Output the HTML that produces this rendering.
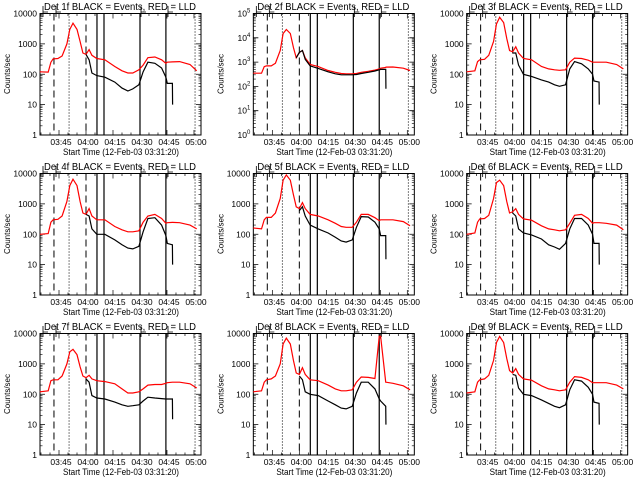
<!DOCTYPE html>
<html><head><meta charset="utf-8">
<style>
html,body{margin:0;padding:0;background:#fff;}
svg{display:block;font-family:"Liberation Sans",sans-serif;}
</style></head>
<body>
<svg id="fig" width="640" height="480" viewBox="0 0 640 480" xmlns="http://www.w3.org/2000/svg"></svg>
<script>
// Time knots: minutes after 03:30
const times = [4.4,9,10.5,11.7,14.4,16.7,19.4,21,22.8,25,26.7,28.3,30,31.7,33.3,36,40.5,46,50,53.3,56,59.4,61.7,64.4,68.3,72,74.4,75.2,78,78.1,82,87.8,91.5];
const panelTitles = ["Det 1f","Det 2f","Det 3f","Det 4f","Det 5f","Det 6f","Det 7f","Det 8f","Det 9f"];
const _ = null;
const red1 = [120,118,250,320,330,400,1000,3000,4800,3000,1200,500,450,650,420,330,300,180,130,110,110,140,200,350,370,300,230,250,255,255,260,210,130];
const blk1 = [_,_,_,_,_,_,_,_,_,_,_,_,450,300,110,90,80,55,35,28,33,45,120,250,230,160,80,50,50,10,_,_,_];
const red2 = [350,350,650,700,700,900,3000,15000,22000,15000,4000,1500,2500,3000,1500,800,650,450,380,340,330,330,340,380,420,470,520,560,600,620,630,560,450];
const blk2 = [_,_,_,_,_,_,_,_,_,_,_,1500,2500,3000,1300,700,550,400,330,300,300,300,310,340,380,430,480,500,500,80,_,_,_];
const red3 = [120,130,260,300,310,420,1200,4500,7500,5000,1500,600,550,800,500,330,300,180,150,140,135,140,250,340,330,290,250,250,250,250,250,210,150];
const blk3 = [_,_,_,_,_,_,_,_,_,_,_,_,500,500,200,100,85,65,55,45,40,45,150,260,220,150,100,60,55,10,_,_,_];
const red4 = [100,105,250,300,310,400,1200,4000,6500,4000,1200,500,450,700,400,300,300,180,140,120,120,130,250,400,450,330,230,240,245,245,240,200,150];
const blk4 = [_,_,_,_,_,_,_,_,_,_,_,_,450,400,150,100,100,65,45,35,33,40,120,330,350,200,90,50,45,10,_,_,_];
const red5 = [160,150,300,360,360,500,1500,6000,9000,6000,2000,800,700,1100,700,450,400,300,230,180,170,170,250,450,450,350,280,300,300,300,300,260,190];
const blk5 = [_,_,_,_,_,_,_,_,_,_,_,_,600,800,400,200,150,110,80,60,55,65,170,380,370,250,150,90,90,15,_,_,_];
const red6 = [100,110,250,320,330,420,1500,5000,6000,4000,1200,500,550,700,450,320,290,190,150,140,130,140,230,420,450,330,230,240,240,240,230,200,140];
const blk6 = [_,_,_,_,_,_,_,_,_,_,_,_,500,400,150,110,95,70,45,38,32,50,150,330,330,200,100,50,50,10,_,_,_];
const red7 = [120,130,280,300,300,400,1000,2500,3000,2000,800,400,350,420,320,280,260,220,150,110,110,120,150,200,210,210,230,240,250,250,250,220,160];
const blk7 = [_,_,_,_,_,_,_,_,_,_,_,_,320,250,90,75,70,55,45,40,42,45,60,80,75,72,70,70,70,15,_,_,_];
const red8 = [120,130,250,300,320,400,1000,4500,7000,4500,1300,500,450,750,450,300,280,200,150,130,130,140,250,370,360,330,8000,8000,250,250,230,190,140];
const blk8 = [_,_,_,_,_,_,_,_,_,_,_,_,400,300,120,100,90,60,45,35,33,40,110,250,250,150,70,60,40,10,_,_,_];
const red9 = [110,120,250,300,320,420,1300,5000,8000,5000,1500,600,500,700,450,320,290,190,150,140,130,140,250,380,360,300,240,240,240,240,240,200,150];
const blk9 = [_,_,_,_,_,_,_,_,_,_,_,_,450,420,160,100,90,65,50,40,36,45,140,300,270,170,100,55,50,10,_,_,_];
const redSeries = [red1,red2,red3,red4,red5,red6,red7,red8,red9];
const blackSeries = [blk1,blk2,blk3,blk4,blk5,blk6,blk7,blk8,blk9];
const yTickLabelsStd = ["1","10","100","1000","10000"];
const xTickTimes = [15,30,45,60,75,90];
const xTickLabels = ["03:45","04:00","04:15","04:30","04:45","05:00"];
const markerTimes = [12.2,20.6,30,36.1,40,60,74.4,90.6];
const markerStyles = ["dash","dot","dash","solid","solid","solid","solid","dot"];

const NS="http://www.w3.org/2000/svg";
const fig=document.getElementById('fig');
function mk(tag,attrs,parent){const e=document.createElementNS(NS,tag);for(const k in attrs)e.setAttribute(k,attrs[k]);parent.appendChild(e);return e;}

const L=40,R=201,T=13.5,B=135;
const tMin=4.44,tMax=93.9;
function xs(t){return L+(t-tMin)/(tMax-tMin)*(R-L);}

for(let p=0;p<9;p++){
  const col=p%3,row=Math.floor(p/3);
  const ox=(col*213.33).toFixed(2),oy=row*160;
  const g=mk('g',{transform:`translate(${ox},${oy})`},fig);
  
  
  const decades = p===1?5:4;
  function ys(v){return B-Math.log10(v)/decades*(B-T);}
  // title
  const tt=mk('text',{x:120,y:10,'font-size':10,'text-anchor':'middle',textLength:152,lengthAdjust:'spacingAndGlyphs'},g);
  tt.textContent=panelTitles[p]+" BLACK = Events, RED = LLD";
  
  
  // top markers
  [43,56,141,168].forEach((mx,i)=>{
    const m=mk('path',{d:`M${mx} 6 V17 M${mx} 12 H${mx+5}`,stroke:'#000','stroke-width':0.8,fill:'none'},g);
    
    
  });
  // frame
  const fr=mk('rect',{x:L,y:T,width:R-L,height:B-T,fill:'none',stroke:'#000','stroke-width':1},g);
  
  
  // y ticks
  for(let d=0;d<=decades;d++){
    const y=ys(Math.pow(10,d));
    mk('path',{d:`M${L} ${y} h5 M${R} ${y} h-5`,stroke:'#000','stroke-width':0.8},g);
    if(d<decades){for(let k=2;k<10;k++){const yy=ys(k*Math.pow(10,d));mk('path',{d:`M${L} ${yy} h2.5 M${R} ${yy} h-2.5`,stroke:'#000','stroke-width':0.6},g);}}
    const lb=mk('text',{x:37,y:y+3,'font-size':8.5,'text-anchor':'end'},g);
    
    
    if(p===1){lb.textContent='10';const s=mk('tspan',{dy:-4,'font-size':6},lb);s.textContent=String(d);}
    else lb.textContent=yTickLabelsStd[d];
  }
  // x ticks
  for(let t=5;t<tMax;t+=5){const x=xs(t);const len=(t%15===0)?5:2.5;mk('path',{d:`M${x} ${B} v-${len} M${x} ${T} v${len}`,stroke:'#000','stroke-width':0.7},g);}
  xTickTimes.forEach((t,i)=>{const lb=mk('text',{x:xs(t)+2,y:145,'font-size':8.5,'text-anchor':'middle'},g);lb.textContent=xTickLabels[i];
    
    });
  const xl=mk('text',{x:121,y:155,'font-size':9.5,'text-anchor':'middle',textLength:116,lengthAdjust:'spacingAndGlyphs'},g);
  xl.textContent="Start Time (12-Feb-03 03:31:20)";
  
  
  const yl=mk('text',{x:0,y:0,'font-size':8,'text-anchor':'middle',transform:`translate(10,74) rotate(-90)`},g);
  yl.textContent="Counts/sec";
  
  
  // vertical markers
  markerTimes.forEach((t,i)=>{
    const st=markerStyles[i];
    const a={x1:xs(t),x2:xs(t),y1:T,y2:B,stroke:'#000','stroke-width':st==='solid'?1.2:1};
    if(st==='dash')a['stroke-dasharray']='7,4';
    if(st==='dot')a['stroke-dasharray']='1,2';
    const ln=mk('line',a,g);
    
    
  });
  // series
  function path(vals){let d='',pen=false;vals.forEach((v,i)=>{if(v==null){pen=false;return;}d+=(pen?'L':'M')+xs(times[i]).toFixed(1)+' '+ys(v).toFixed(1)+' ';pen=true;});return d;}
  const rp=mk('path',{d:path(redSeries[p]),stroke:'#ff0000','stroke-width':1.2,fill:'none'},g);
  
  
  const bp=mk('path',{d:path(blackSeries[p]),stroke:'#000','stroke-width':1.2,fill:'none'},g);
  
  
}
</script>
</body></html>
